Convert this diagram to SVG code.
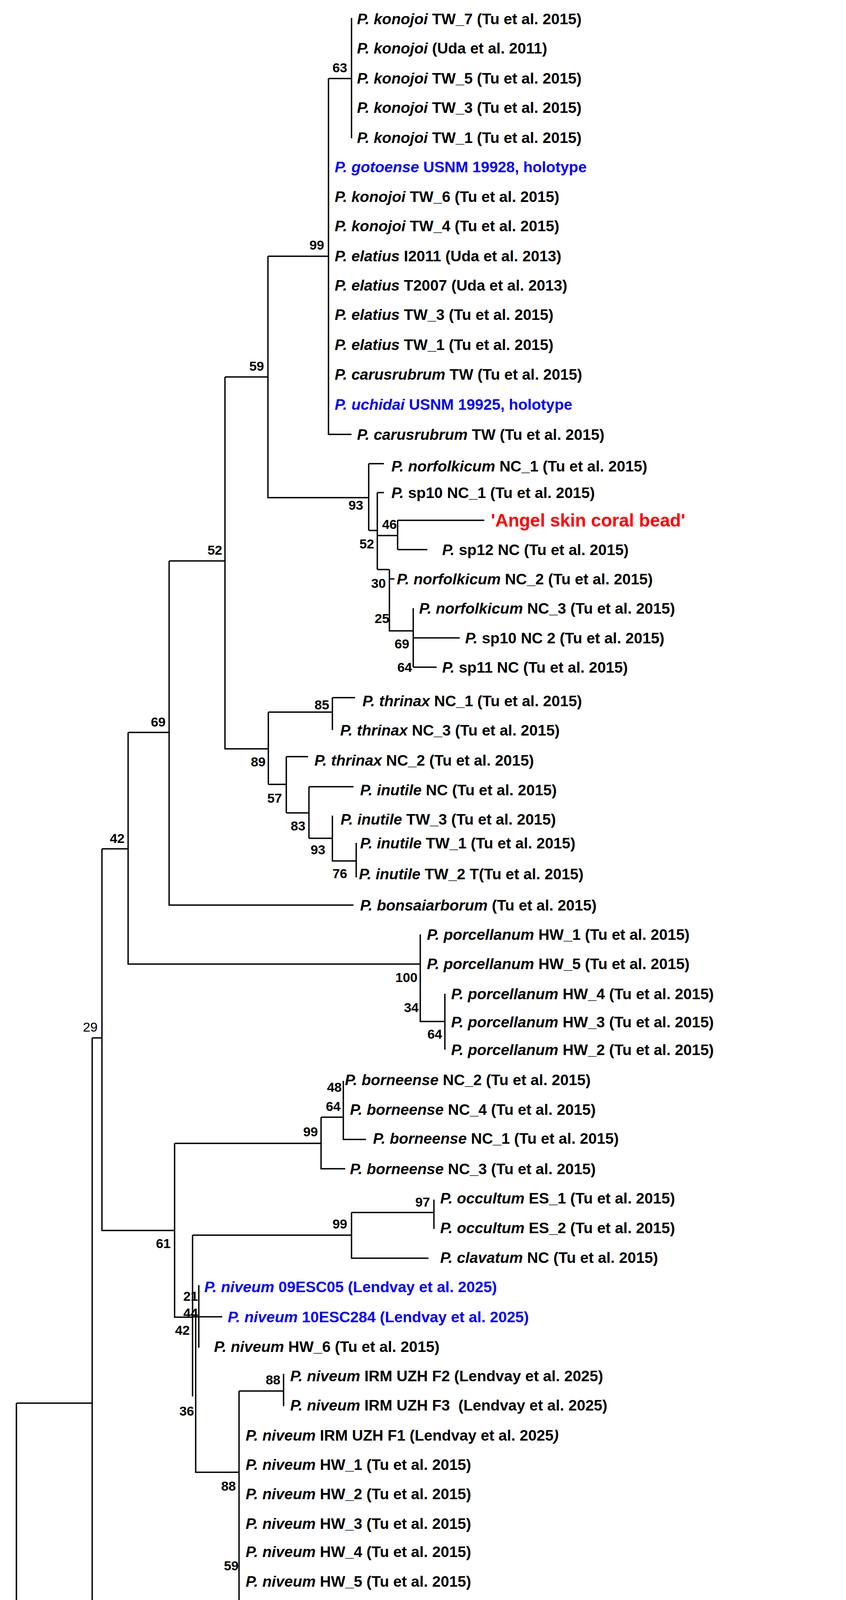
<svg xmlns="http://www.w3.org/2000/svg" width="2166" height="5081" viewBox="0 0 2166 5081">
<style>
.t{font-family:"Liberation Sans",Arial,sans-serif;font-weight:bold;font-size:39px;fill:#000;white-space:pre}
.blue{fill:#0000ff}
.i{font-style:italic}
.b{font-family:"Liberation Sans",Arial,sans-serif;font-weight:bold;font-size:34px;fill:#000;text-anchor:end}
.n{font-weight:normal}
.e{fill:none;stroke:#000;stroke-width:3.5}
</style>
<rect width="2166" height="5081" fill="#fff"/>
<g id="connectors">
<path class="e" d="M900 46V354M841 201H900M841 201V1112H900M686 656H841M686 656V1274H944M576 965H686
M944 1187V1358M944 1187H983M944 1358H966M966 1261V1458M966 1261H983M966 1371H1018M966 1458H997
M1018 1332V1407M1018 1332H1240M1018 1407H1094M997 1458V1615H1058M997 1482H1010M1058 1557V1708M1058 1633H1177M1058 1708H1118
M576 965V1917H687M433 1436H576M687 1823V2008M687 1823H851M851 1786V1869M851 1786H909
M687 2008H733M733 1937V2081M733 1937H789M733 2081H791M791 2014V2146M791 2014H905M791 2146H851M851 2088V2204H912M912 2158V2246
M433 1436V2317H905M328 1875H433M328 1875V2468H1076M261 2173H328M1076 2392V2615H1139M1139 2544V2687
M261 2173V3150H447M236 2657H261M447 2927V3372H493M447 2927H822M822 2860V2992H884M822 2860H879M879 2767V2917H937
M493 3162V3575M493 3162H900M900 3104V3221H1097M900 3104H1111M1111 3071V3146
M509 3290V3450M509 3371H569M493 3371H509M501 3360V3769H612M612 3561V4275M612 3561H726M726 3517V3600
M236 2657V4523H1055M1055 4353V4693H1107M1055 4353H1118M1107 4422V4960M42 3592V5030H1240M42 3592H236"/>
</g>
<g id="leaves">
<g id="l1"><text class="t" x="914" y="62"><tspan class="i">P. konojoi</tspan> TW_7 (Tu et al. 2015)</text></g>
<g id="l2"><text class="t" x="914" y="137"><tspan class="i">P. konojoi</tspan> (Uda et al. 2011)</text></g>
<g id="l3"><text class="t" x="914" y="214"><tspan class="i">P. konojoi</tspan> TW_5 (Tu et al. 2015)</text></g>
<g id="l4"><text class="t" x="914" y="289"><tspan class="i">P. konojoi</tspan> TW_3 (Tu et al. 2015)</text></g>
<g id="l5"><text class="t" x="914" y="366"><tspan class="i">P. konojoi</tspan> TW_1 (Tu et al. 2015)</text></g>
<g id="l6"><text class="t blue" x="857" y="441"><tspan class="i">P. gotoense</tspan> USNM 19928, holotype</text></g>
<g id="l7"><text class="t" x="857" y="517"><tspan class="i">P. konojoi</tspan> TW_6 (Tu et al. 2015)</text></g>
<g id="l8"><text class="t" x="857" y="592"><tspan class="i">P. konojoi</tspan> TW_4 (Tu et al. 2015)</text></g>
<g id="l9"><text class="t" x="857" y="669"><tspan class="i">P. elatius</tspan> I2011 (Uda et al. 2013)</text></g>
<g id="l10"><text class="t" x="857" y="744"><tspan class="i">P. elatius</tspan> T2007 (Uda et al. 2013)</text></g>
<g id="l11"><text class="t" x="857" y="819"><tspan class="i">P. elatius</tspan> TW_3 (Tu et al. 2015)</text></g>
<g id="l12"><text class="t" x="857" y="896"><tspan class="i">P. elatius</tspan> TW_1 (Tu et al. 2015)</text></g>
<g id="l13"><text class="t" x="857" y="972"><tspan class="i">P. carusrubrum</tspan> TW (Tu et al. 2015)</text></g>
<g id="l14"><text class="t blue" x="857" y="1049"><tspan class="i">P. uchidai</tspan> USNM 19925, holotype</text></g>
<g id="l15"><text class="t" x="914" y="1126"><tspan class="i">P. carusrubrum</tspan> TW (Tu et al. 2015)</text></g>
<g id="l16"><text class="t" x="1002" y="1207"><tspan class="i">P. norfolkicum</tspan> NC_1 (Tu et al. 2015)</text></g>
<g id="l17"><text class="t" x="1002" y="1275"><tspan class="i">P.</tspan> sp10 NC_1 (Tu et al. 2015)</text></g>
<g id="l18"><text class="t" x="1257" y="1348" style="fill:#ff0000;font-size:46px">'Angel skin coral bead'</text></g>
<g id="l19"><text class="t" x="1132" y="1421"><tspan class="i">P.</tspan> sp12 NC (Tu et al. 2015)</text></g>
<g id="l20"><text class="t" x="1016" y="1496"><tspan class="i">P. norfolkicum</tspan> NC_2 (Tu et al. 2015)</text></g>
<g id="l21"><text class="t" x="1073" y="1571"><tspan class="i">P. norfolkicum</tspan> NC_3 (Tu et al. 2015)</text></g>
<g id="l22"><text class="t" x="1191" y="1647"><tspan class="i">P.</tspan> sp10 NC 2 (Tu et al. 2015)</text></g>
<g id="l23"><text class="t" x="1132" y="1722"><tspan class="i">P.</tspan> sp11 NC (Tu et al. 2015)</text></g>
<g id="l24"><text class="t" x="928" y="1808"><tspan class="i">P. thrinax</tspan> NC_1 (Tu et al. 2015)</text></g>
<g id="l25"><text class="t" x="871" y="1883"><tspan class="i">P. thrinax</tspan> NC_3 (Tu et al. 2015)</text></g>
<g id="l26"><text class="t" x="805" y="1960"><tspan class="i">P. thrinax</tspan> NC_2 (Tu et al. 2015)</text></g>
<g id="l27"><text class="t" x="922" y="2036"><tspan class="i">P. inutile</tspan> NC (Tu et al. 2015)</text></g>
<g id="l28"><text class="t" x="872" y="2111"><tspan class="i">P. inutile</tspan> TW_3 (Tu et al. 2015)</text></g>
<g id="l29"><text class="t" x="922" y="2172"><tspan class="i">P. inutile</tspan> TW_1 (Tu et al. 2015)</text></g>
<g id="l30"><text class="t" x="919" y="2251"><tspan class="i">P. inutile</tspan> TW_2 T(Tu et al. 2015)</text></g>
<g id="l31"><text class="t" x="922" y="2331"><tspan class="i">P. bonsaiarborum</tspan> (Tu et al. 2015)</text></g>
<g id="l32"><text class="t" x="1093" y="2406"><tspan class="i">P. porcellanum</tspan> HW_1 (Tu et al. 2015)</text></g>
<g id="l33"><text class="t" x="1093" y="2481"><tspan class="i">P. porcellanum</tspan> HW_5 (Tu et al. 2015)</text></g>
<g id="l34"><text class="t" x="1155" y="2558"><tspan class="i">P. porcellanum</tspan> HW_4 (Tu et al. 2015)</text></g>
<g id="l35"><text class="t" x="1155" y="2630"><tspan class="i">P. porcellanum</tspan> HW_3 (Tu et al. 2015)</text></g>
<g id="l36"><text class="t" x="1155" y="2701"><tspan class="i">P. porcellanum</tspan> HW_2 (Tu et al. 2015)</text></g>
<g id="l37"><text class="t" x="883" y="2778"><tspan class="i">P. borneense</tspan> NC_2 (Tu et al. 2015)</text></g>
<g id="l38"><text class="t" x="896" y="2854"><tspan class="i">P. borneense</tspan> NC_4 (Tu et al. 2015)</text></g>
<g id="l39"><text class="t" x="955" y="2928"><tspan class="i">P. borneense</tspan> NC_1 (Tu et al. 2015)</text></g>
<g id="l40"><text class="t" x="896" y="3006"><tspan class="i">P. borneense</tspan> NC_3 (Tu et al. 2015)</text></g>
<g id="l41"><text class="t" x="1127" y="3081"><tspan class="i">P. occultum</tspan> ES_1 (Tu et al. 2015)</text></g>
<g id="l42"><text class="t" x="1127" y="3157"><tspan class="i">P. occultum</tspan> ES_2 (Tu et al. 2015)</text></g>
<g id="l43"><text class="t" x="1127" y="3233"><tspan class="i">P. clavatum</tspan> NC (Tu et al. 2015)</text></g>
<g id="l44"><text class="t blue" x="523" y="3308"><tspan class="i">P. niveum</tspan> 09ESC05 (Lendvay et al. 2025)</text></g>
<g id="l45"><text class="t blue" x="583" y="3385"><tspan class="i">P. niveum</tspan> 10ESC284 (Lendvay et al. 2025)</text></g>
<g id="l46"><text class="t" x="548" y="3461"><tspan class="i">P. niveum</tspan> HW_6 (Tu et al. 2015)</text></g>
<g id="l47"><text class="t" x="743" y="3536"><tspan class="i">P. niveum</tspan> IRM UZH F2 (Lendvay et al. 2025)</text></g>
<g id="l48"><text class="t" x="743" y="3611"><tspan class="i">P. niveum</tspan> IRM UZH F3  (Lendvay et al. 2025)</text></g>
<g id="l49"><text class="t" x="629" y="3688"><tspan class="i">P. niveum</tspan> IRM UZH F1 (Lendvay et al. 2025<tspan class="i">)</tspan></text></g>
<g id="l50"><text class="t" x="629" y="3763"><tspan class="i">P. niveum</tspan> HW_1 (Tu et al. 2015)</text></g>
<g id="l51"><text class="t" x="629" y="3838"><tspan class="i">P. niveum</tspan> HW_2 (Tu et al. 2015)</text></g>
<g id="l52"><text class="t" x="629" y="3914"><tspan class="i">P. niveum</tspan> HW_3 (Tu et al. 2015)</text></g>
<g id="l53"><text class="t" x="629" y="3986"><tspan class="i">P. niveum</tspan> HW_4 (Tu et al. 2015)</text></g>
<g id="l54"><text class="t" x="629" y="4062"><tspan class="i">P. niveum</tspan> HW_5 (Tu et al. 2015)</text></g>
<g id="l55"><text class="t" x="629" y="4139"><tspan class="i">P. niveum</tspan> HW_7 (Tu et al. 2015)</text></g>
<g id="l56"><text class="t blue" x="629" y="4213"><tspan class="i">P. niveum</tspan> 09ESC12 (Lendvay et al. 2025)</text></g>
<g id="l57"><text class="t" x="629" y="4289"><tspan class="i">P. niveum</tspan> HW_8 (Tu et al. 2015)</text></g>
<g id="l58"><text class="t" x="1134" y="4367"><tspan class="i">P. secundum</tspan> USNM 600, holotype (Lendvay et al. 2025)</text></g>
<g id="l59"><text class="t" x="1122" y="4439"><tspan class="i">P. secundum</tspan> USNM 49330 (Lendvay et al. 2025)</text></g>
<g id="l60"><text class="t" x="1122" y="4514"><tspan class="i">P. secundum</tspan> IRM UZH 106 (Lendvay et al. 2025)</text></g>
<g id="l61"><text class="t" x="1122" y="4586"><tspan class="i">P. secundum</tspan> IRM UZH 107 (Lendvay et al. 2025)</text></g>
<g id="l62"><text class="t" x="1122" y="4671"><tspan class="i">P. secundum</tspan> IRM UZH 108 (Lendvay et al. 2025)</text></g>
<g id="l63"><text class="t" x="1122" y="4757"><tspan class="i">P. secundum</tspan> IRM UZH 204 (Lendvay et al. 2025)</text></g>
<g id="l64"><text class="t" x="1122" y="4828"><tspan class="i">P. secundum</tspan> HW_1 (Tu et al. 2015)</text></g>
<g id="l65"><text class="t" x="1122" y="4900"><tspan class="i">P. secundum</tspan> HW_2 (Tu et al. 2015)</text></g>
<g id="l66"><text class="t" x="1122" y="4978"><tspan class="i">P. secundum</tspan> TW (Tu et al. 2015)</text></g>
<g id="l67"><text class="t" x="1257" y="5044"><tspan class="i">C. rubrum</tspan> (Uda et al. 2013)</text></g>
</g>
<g id="support">
<text class="b" x="889" y="185">63</text>
<text class="b" x="830" y="639">99</text>
<text class="b" x="676" y="949">59</text>
<text class="b" x="930" y="1305">93</text>
<text class="b" x="1016" y="1354">46</text>
<text class="b" x="958" y="1404">52</text>
<text class="b" x="988" y="1505">30</text>
<text class="b" x="997" y="1595">25</text>
<text class="b" x="1048" y="1660">69</text>
<text class="b" x="1055" y="1720">64</text>
<text class="b" x="569" y="1420">52</text>
<text class="b" x="843" y="1816">85</text>
<text class="b" x="680" y="1962">89</text>
<text class="b" x="722" y="2055">57</text>
<text class="b" x="782" y="2126">83</text>
<text class="b" x="833" y="2187">93</text>
<text class="b" x="889" y="2248">76</text>
<text class="b" x="424" y="1860">69</text>
<text class="b" x="319" y="2158">42</text>
<text class="b" x="1069" y="2514">100</text>
<text class="b" x="1072" y="2591">34</text>
<text class="b" x="1132" y="2659">64</text>
<text class="b n" x="250" y="2641">29</text>
<text class="b" x="875" y="2795">48</text>
<text class="b" x="872" y="2844">64</text>
<text class="b" x="814" y="2909">99</text>
<text class="b" x="1101" y="3089">97</text>
<text class="b" x="889" y="3145">99</text>
<text class="b" x="437" y="3195">61</text>
<text class="b" x="507" y="3330">21</text>
<text class="b" x="507" y="3373">44</text>
<text class="b" x="486" y="3417">42</text>
<text class="b" x="497" y="3624">36</text>
<text class="b" x="718" y="3544">88</text>
<text class="b" x="604" y="3816">88</text>
<text class="b" x="611" y="4020">59</text>
<text class="b" x="1007" y="4578">100</text>
<text class="b" x="1072" y="4752">87</text>
</g>
</svg>
